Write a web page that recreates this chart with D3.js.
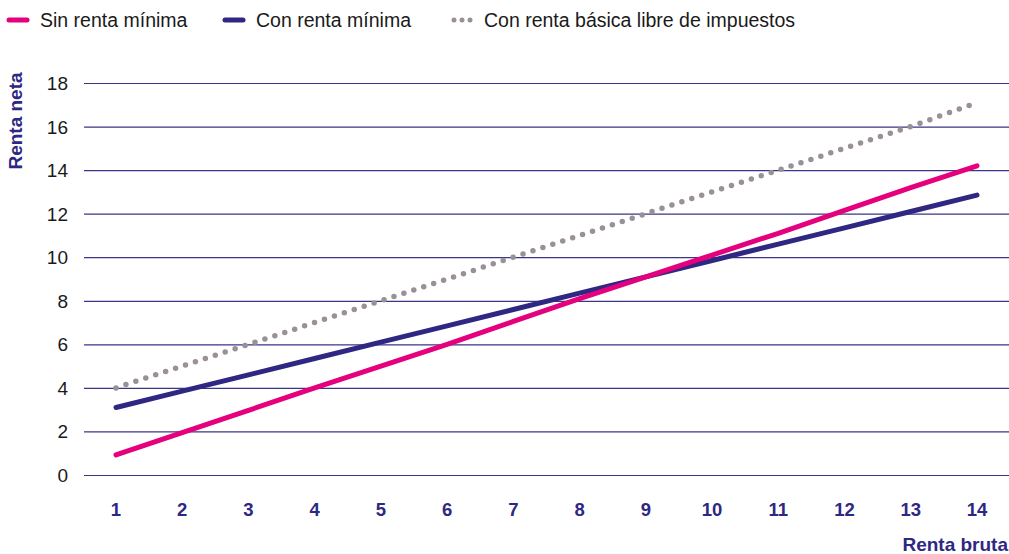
<!DOCTYPE html>
<html>
<head>
<meta charset="utf-8">
<script src="https://cdn.jsdelivr.net/npm/d3@7"></script>
<style>
body { margin: 0; background: #fff; }
svg text { font-family: "Liberation Sans", Arial, sans-serif; }
</style>
</head>
<body>
<div id="chart"></div>
<script>
var width = 1009, height = 554;

// data
var rentaBruta = [1,2,3,4,5,6,7,8,9,10,11,12,13,14];
var sinRenta = [0.92,1.95,2.97,4.0,5.0,6.0,7.05,8.1,9.1,10.1,11.1,12.15,13.2,14.2];
var conRenta = [3.1,3.85,4.6,5.35,6.1,6.85,7.6,8.35,9.1,9.85,10.6,11.35,12.1,12.85];
var rentaBasica = [4,5,6,7,8,9,10,11,12,13,14,15,16,17.1];
var yTicks = [0,2,4,6,8,10,12,14,16,18];
var seriesNames = ["Sin renta mínima","Con renta mínima","Con renta básica libre de impuestos"];

var pink = "#e5007d", navy = "#2e2883", grey = "#9a9097";

var x = d3.scaleLinear().domain([1,14]).range([116,977]);
var y = d3.scaleLinear().domain([0,18]).range([475,83]);

var svg = d3.select("#chart").append("svg")
  .attr("width", width)
  .attr("height", height);

// grid
svg.append("g").selectAll("line")
  .data(yTicks)
  .enter().append("line")
  .attr("x1", 84).attr("x2", width)
  .attr("y1", function(d){ return y(d) + 0.5; })
  .attr("y2", function(d){ return y(d) + 0.5; })
  .attr("stroke", "#3b3586")
  .attr("stroke-width", 1.2);

// y axis labels
svg.append("g").selectAll("text")
  .data(yTicks)
  .enter().append("text")
  .attr("x", 68)
  .attr("y", function(d){ return y(d) + 7; })
  .attr("text-anchor", "end")
  .attr("font-size", 19)
  .attr("fill", "#1a1a1a")
  .text(function(d){ return d; });

// x axis labels
svg.append("g").selectAll("text")
  .data(rentaBruta)
  .enter().append("text")
  .attr("x", function(d){ return x(d); })
  .attr("y", 516)
  .attr("text-anchor", "middle")
  .attr("font-size", 18.5)
  .attr("font-weight", "bold")
  .attr("fill", navy)
  .text(function(d){ return d; });

svg.append("text")
  .attr("x", 1008).attr("y", 551)
  .attr("text-anchor", "end")
  .attr("font-size", 19)
  .attr("font-weight", "bold")
  .attr("fill", navy)
  .text("Renta bruta");

svg.append("text")
  .attr("transform", "translate(22,121) rotate(-90)")
  .attr("text-anchor", "middle")
  .attr("font-size", 19)
  .attr("font-weight", "bold")
  .attr("fill", navy)
  .text("Renta neta");

var line = d3.line()
  .x(function(d,i){ return x(rentaBruta[i]); })
  .y(function(d){ return y(d); });

// lines
svg.append("path")
  .datum(rentaBasica)
  .attr("d", line)
  .attr("fill", "none")
  .attr("stroke", grey)
  .attr("stroke-width", 5.5)
  .attr("stroke-linecap", "round")
  .attr("stroke-dasharray", "0 10.45");

svg.append("path")
  .datum(conRenta)
  .attr("d", line)
  .attr("fill", "none")
  .attr("stroke", navy)
  .attr("stroke-width", 5)
  .attr("stroke-linecap", "round");

svg.append("path")
  .datum(sinRenta)
  .attr("d", line)
  .attr("fill", "none")
  .attr("stroke", pink)
  .attr("stroke-width", 5)
  .attr("stroke-linecap", "round");

// legend
var legend = [
  {name: seriesNames[0], color: pink, x: 9, tx: 40, dots: false},
  {name: seriesNames[1], color: navy, x: 225, tx: 256, dots: false},
  {name: seriesNames[2], color: grey, x: 454, tx: 484, dots: true}
];
var lg = svg.append("g").selectAll("g").data(legend).enter().append("g");
lg.append("line")
  .attr("x1", function(d){ return d.x; })
  .attr("x2", function(d){ return d.dots ? d.x + 16.5 : d.x + 18; })
  .attr("y1", 20).attr("y2", 20)
  .attr("stroke", function(d){ return d.color; })
  .attr("stroke-width", 5)
  .attr("stroke-linecap", "round")
  .attr("stroke-dasharray", function(d){ return d.dots ? "0 8" : null; });
lg.append("text")
  .attr("x", function(d){ return d.tx; })
  .attr("y", 27)
  .attr("font-size", 19.5)
  .attr("fill", "#1a1a1a")
  .text(function(d){ return d.name; });
</script>
</body>
</html>
